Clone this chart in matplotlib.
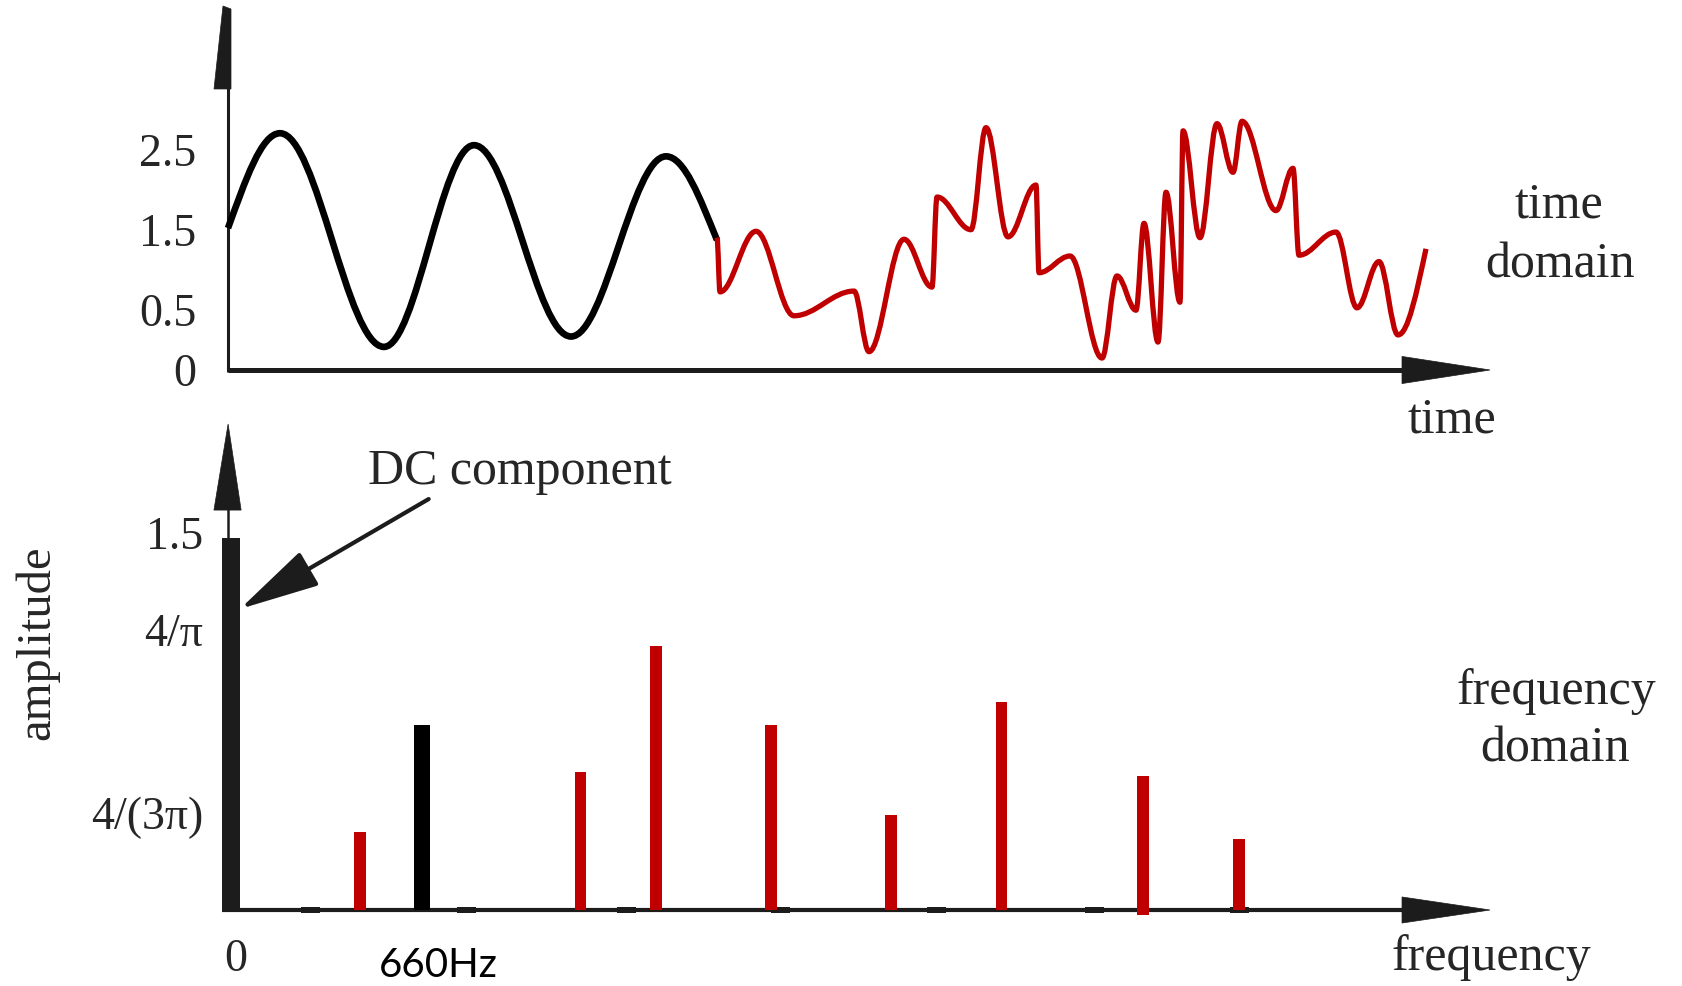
import numpy as np
import matplotlib
matplotlib.use('Agg')
import matplotlib.pyplot as plt
from matplotlib.path import Path
from matplotlib.patches import PathPatch, Polygon

# ---------------- data ----------------
# time domain: turning points of the waveforms (time in samples, amplitude)
pure_t = [0, 52, 156, 246, 343, 438, 489]
pure_y = [1.52, 2.71, 0.03, 2.56, 0.16, 2.42, 1.37]

noisy_t = [489, 492, 528, 566, 626, 641, 676, 704, 709, 743, 758, 780, 808, 811,
           842, 874, 889, 908, 916, 930, 938, 952, 955, 972, 989, 1005, 1014,
           1048, 1065, 1071, 1108, 1129, 1151, 1170, 1198]
noisy_y = [1.40, 0.72, 1.48, 0.42, 0.73, -0.03, 1.38, 0.78, 1.91, 1.50, 2.78, 1.41,
           2.06, 0.96, 1.17, -0.11, 0.92, 0.49, 1.58, 0.09, 1.97, 0.59, 2.74, 1.40,
           2.83, 2.22, 2.86, 1.74, 2.27, 1.18, 1.47, 0.52, 1.10, 0.18, 1.26]

time_ticks = [-0.26, 0.5, 1.5, 2.5]
time_tick_labels = ['0', '0.5', '1.5', '2.5']

# frequency domain
dc_freq, dc_amp = 0, 1.686
tone_freq, tone_amp = 660, 0.838
harm_freqs = [446, 1208, 1468, 1866, 2280, 2662, 3151, 3483]
harm_amps = [0.352, 0.626, 1.198, 0.836, 0.431, 0.944, 0.606, 0.322]
harm_bottoms = [0, 0, 0, 0, 0, 0, -0.023, 0]
axis_marks = [276, 815, 1365, 1900, 2439, 2985, 3483]
amp_ticks = [1.71, 1.27, 0.44]
amp_tick_labels = ['1.5', '4/π', '4/(3π)']

# ---------------- styling ----------------
W, H = 1683, 986
SERIF = ['Liberation Serif', 'DejaVu Serif']
TXT = '#262626'
AXC = '#1c1c1c'
RED = '#C00000'

fig = plt.figure(figsize=(W / 100, H / 100), dpi=100)
fig.patch.set_facecolor('white')


def box(l, t, r, b):
    return [l / W, 1 - b / H, (r - l) / W, (b - t) / H]


def ftext(x, y, s, **kw):
    fig.text(x / W, 1 - y / H, s, **kw)


def smooth_path(xs, ys, k=0.36, free_start=False, free_end=False):
    verts = [(xs[0], ys[0])]
    codes = [Path.MOVETO]
    n = len(xs)
    for i in range(n - 1):
        x0, y0, x1, y1 = xs[i], ys[i], xs[i + 1], ys[i + 1]
        dx, dy = x1 - x0, y1 - y0
        c1 = (x0 + k * dx, y0)
        c2 = (x1 - k * dx, y1)
        if free_start and i == 0:
            c1 = (x0 + dx / 3, y0 + dy / 2)
        if free_end and i == n - 2:
            c2 = (x1 - dx / 3, y1 - dy / 2)
        verts += [c1, c2, (x1, y1)]
        codes += [Path.CURVE4] * 3
    return Path(verts, codes)


# ---------------- top: time domain ----------------
ax1 = fig.add_axes(box(228, 6, 1490, 370))
ax1.set_xlim(0, 1262)
ax1.set_ylim(-0.26, 4.306)
for s in ax1.spines.values():
    s.set_visible(False)
ax1.set_xticks([])
ax1.set_yticks(time_ticks, labels=time_tick_labels)
ax1.tick_params(axis='y', length=0, pad=23, labelsize=33, labelcolor=TXT)
for lab in ax1.get_yticklabels():
    lab.set_fontfamily(SERIF)

# axes arrows
ax1.plot([0, 1180], [-0.26, -0.26], lw=3.6, color=AXC, clip_on=False,
         solid_capstyle='butt', zorder=2)
ax1.add_patch(Polygon([(1174, -0.26 + 0.17), (1262, -0.26), (1174, -0.26 - 0.17)],
                      closed=True, fc=AXC, ec=AXC, lw=0.5, clip_on=False, zorder=2))
ax1.plot([0, 0], [-0.29, 3.3], lw=2.2, color=AXC, clip_on=False,
         solid_capstyle='butt', zorder=2)
ax1.add_patch(Polygon([(-14, 3.265), (3, 3.265), (3, 4.268), (-5, 4.306)],
                      closed=True, fc=AXC, ec=AXC, lw=0.5, clip_on=False, zorder=2))

ax1.add_patch(PathPatch(smooth_path(pure_t, pure_y, free_start=True, free_end=True),
                        fill=False, ec='black', lw=4.8, capstyle='butt',
                        joinstyle='round', clip_on=False, zorder=3))
ax1.add_patch(PathPatch(smooth_path(noisy_t, noisy_y, free_end=True),
                        fill=False, ec=RED, lw=3.8, capstyle='butt',
                        joinstyle='round', clip_on=False, zorder=4))

# ---------------- bottom: frequency domain ----------------
ax2 = fig.add_axes(box(231, 424, 1490, 910))
ax2.set_xlim(0, 4350)
ax2.set_ylim(0, 2.202)
for s in ax2.spines.values():
    s.set_visible(False)
ax2.set_xticks([])
ax2.set_yticks(amp_ticks, labels=amp_tick_labels)
ax2.tick_params(axis='y', length=0, pad=20, labelsize=33, labelcolor=TXT)
for lab in ax2.get_yticklabels():
    lab.set_fontfamily(SERIF)

ax2.plot([-31, 4080], [0, 0], lw=3.0, color=AXC, clip_on=False,
         solid_capstyle='butt', zorder=2)
ax2.add_patch(Polygon([(4046, 0.059), (4350, 0), (4046, -0.059)],
                      closed=True, fc=AXC, ec=AXC, lw=0.5, clip_on=False, zorder=2))
ax2.plot([-10, -10], [1.6, 1.83], lw=1.8, color=AXC, clip_on=False, zorder=2)
ax2.add_patch(Polygon([(-59, 1.812), (35, 1.812), (-10, 2.202)],
                      closed=True, fc=AXC, ec=AXC, lw=0.5, clip_on=False, zorder=2))
# small dashes on the frequency axis
ax2.bar(axis_marks, [0.028] * len(axis_marks), bottom=-0.014, width=66,
        color=AXC, zorder=2, clip_on=False)

ax2.bar([dc_freq], [dc_amp], width=62, color=AXC, zorder=3, clip_on=False)
ax2.bar([tone_freq], [tone_amp], width=55, color='black', zorder=3, clip_on=False)
ax2.bar(harm_freqs, np.array(harm_amps) - np.array(harm_bottoms), bottom=harm_bottoms,
        width=40, color=RED, zorder=3, clip_on=False)

# DC arrow
ax2.annotate('', xy=(31, 1.364), xytext=(683, 1.862),
             arrowprops=dict(arrowstyle='-|>,head_length=2.5,head_width=0.6',
                             lw=3.0, color=AXC, shrinkA=0, shrinkB=0,
                             mutation_scale=20),
             annotation_clip=False)

# ---------------- texts ----------------
kw = dict(family=SERIF, color=TXT, ha='center', va='baseline')
ftext(520, 484, 'DC component', fontsize=36, **kw)
ftext(1559, 218, 'time', fontsize=36, **kw)
ftext(1560, 277, 'domain', fontsize=36, **kw)
ftext(1452, 433, 'time', fontsize=36, **kw)
ftext(1556, 704, 'frequency', fontsize=36, **kw)
ftext(1555, 762, 'domain', fontsize=36, **kw)
ftext(1491, 970, 'frequency', fontsize=36, **kw)
ftext(37, 643, 'amplitude', fontsize=35, family=SERIF, color=TXT, ha='center',
      va='center', rotation=90)
ftext(236, 971, '0', fontsize=33, **kw)
ftext(438, 977, '660Hz', fontsize=29, family=['Lato', 'DejaVu Sans'], color='black',
      ha='center', va='baseline')

fig.savefig('out.png', dpi=100, facecolor='white')
